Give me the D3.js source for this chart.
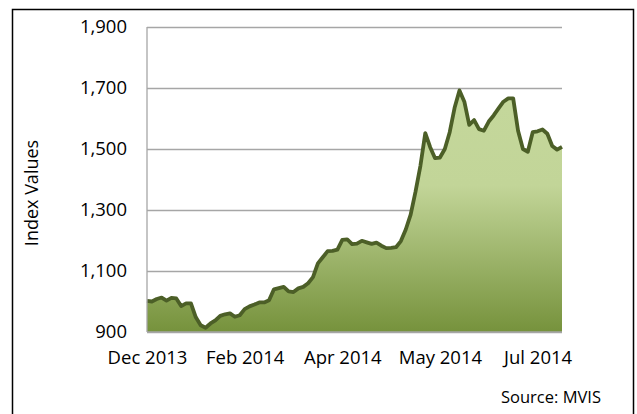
<!DOCTYPE html>
<html lang="en">
<head>
<meta charset="utf-8">
<title>Index Values</title>
<script src="https://d3js.org/d3.v7.min.js"></script>
<style>
  body { margin: 0; background: #fff; }
  text { font-family: "Open Sans", "Noto Sans", sans-serif; fill: #000; }
</style>
</head>
<body>
<script>
// index values, evenly spaced trading days
const values = [
  1002, 1000, 1008, 1013, 1003, 1012, 1010, 985, 994, 994,
  948, 922, 914, 928, 938, 953, 958, 961, 950, 955,
  975, 984, 990, 997, 997, 1004, 1040, 1044, 1048, 1033,
  1031, 1043, 1048, 1060, 1080, 1125, 1145, 1165, 1166, 1170,
  1202, 1204, 1188, 1190, 1199, 1194, 1189, 1193, 1183, 1175,
  1176, 1178, 1198, 1236, 1285, 1360, 1445, 1552, 1506, 1470,
  1472, 1500, 1555, 1635, 1692, 1655, 1579, 1595, 1565, 1560,
  1590, 1610, 1633, 1655, 1666, 1666, 1560, 1500, 1491, 1555,
  1558, 1564, 1550, 1510, 1498, 1507
];
// category labels shown every 20 points
const tickLabels = ["Dec 2013", "Feb 2014", "Apr 2014", "May 2014", "Jul 2014"];
const tickEvery = 20;
const yTicks = [900, 1100, 1300, 1500, 1700, 1900];

const width = 637, height = 414;
const plot = { left: 147, right: 562, top: 27, bottom: 332 };

const svg = d3.select("body").append("svg")
  .attr("width", width)
  .attr("height", height);

// outer frame (bottom edge runs off the picture)
svg.append("rect")
  .attr("x", 12.5).attr("y", 9.5)
  .attr("width", 621).attr("height", 430)
  .attr("fill", "none")
  .attr("stroke", "#000")
  .attr("stroke-width", 1.5);

const x = d3.scaleLinear().domain([0, values.length - 1]).range([plot.left, plot.right]);
const y = d3.scaleLinear().domain([900, 1900]).range([plot.bottom, plot.top]);

// gradient fill for the area
const grad = svg.append("defs").append("linearGradient")
  .attr("id", "fillGrad")
  .attr("gradientUnits", "userSpaceOnUse")
  .attr("x1", 0).attr("x2", 0)
  .attr("y1", y(1900)).attr("y2", y(900));
grad.append("stop").attr("offset", "0%").attr("stop-color", "#c6d99e");
grad.append("stop").attr("offset", "52%").attr("stop-color", "#c2d598");
grad.append("stop").attr("offset", "100%").attr("stop-color", "#76923c");

// gridlines
svg.append("g")
  .attr("transform", "translate(" + plot.left + ",0)")
  .call(d3.axisLeft(y).tickValues(yTicks).tickSize(-(plot.right - plot.left)).tickFormat(""))
  .call(g => g.select(".domain").remove())
  .call(g => g.selectAll("line").attr("stroke", "#a6a6a6").attr("stroke-width", 1.3));

// area + line
const area = d3.area()
  .x((d, i) => x(i))
  .y0(y(900))
  .y1(d => y(d));
svg.append("path")
  .datum(values)
  .attr("d", area)
  .attr("fill", "url(#fillGrad)");

const line = d3.line()
  .x((d, i) => x(i))
  .y(d => y(d));
svg.append("path")
  .datum(values)
  .attr("d", line)
  .attr("fill", "none")
  .attr("stroke", "#4c5f27")
  .attr("stroke-width", 3.8)
  .attr("stroke-linejoin", "round");

// left and bottom axis lines
svg.append("line")
  .attr("x1", plot.left).attr("x2", plot.left)
  .attr("y1", plot.top).attr("y2", plot.bottom)
  .attr("stroke", "#a6a6a6").attr("stroke-width", 1.3);
svg.append("line")
  .attr("x1", plot.left).attr("x2", plot.right)
  .attr("y1", plot.bottom).attr("y2", plot.bottom)
  .attr("stroke", "#a6a6a6").attr("stroke-width", 1.3);

// y tick labels
svg.append("g")
  .attr("transform", "translate(" + plot.left + ",0)")
  .call(d3.axisLeft(y).tickValues(yTicks).tickSize(0).tickPadding(20).tickFormat(d3.format(",")))
  .call(g => g.select(".domain").remove())
  .call(g => g.selectAll("text").attr("font-size", 18.5).attr("font-family", null));

// x tick labels
svg.append("g")
  .attr("transform", "translate(0," + plot.bottom + ")")
  .call(d3.axisBottom(x)
    .tickValues(tickLabels.map((d, i) => i * tickEvery))
    .tickSize(0).tickPadding(19)
    .tickFormat((d, i) => tickLabels[i]))
  .call(g => g.select(".domain").remove())
  .call(g => g.selectAll("text").attr("font-size", 18.5).attr("font-family", null));

// axis title
svg.append("text")
  .attr("transform", "translate(38,193) rotate(-90)")
  .attr("text-anchor", "middle")
  .attr("font-size", 18)
  .text("Index Values");

svg.append("text")
  .attr("x", 601).attr("y", 403)
  .attr("text-anchor", "end")
  .attr("font-size", 16.5)
  .text("Source: MVIS");
</script>
</body>
</html>
